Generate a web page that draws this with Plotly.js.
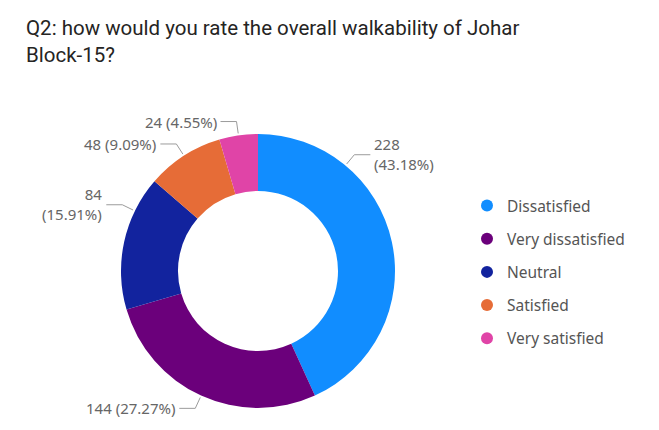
<!DOCTYPE html>
<html>
<head>
<meta charset="utf-8">
<script src="https://cdn.plot.ly/plotly-3.0.1.min.js"></script>
<style>html,body{margin:0;padding:0;background:#fff;}#chart{width:659px;height:430px;}</style>
</head>
<body>
<div id="chart"></div>
<script>
// ---- data ----
const categories = ["Dissatisfied", "Very dissatisfied", "Neutral", "Satisfied", "Very satisfied"];
const counts = [228, 144, 84, 48, 24];
const colors = ["#118DFF", "#6B007B", "#12239E", "#E66C37", "#E044A7"];
const titleText = "Q2: how would you rate the overall walkability of Johar<br>Block-15?";

// ---- label layout (where along each slice the leader line attaches, line breaks) ----
const labelFrac = [0.255, 0.5, 0.74, 0.5, 0.5];
const labelBreak = [true, false, true, false, false];

const W = 659, H = 430;
const CX = 258, CY = 271, R = 137;

const total = counts.reduce((a, b) => a + b, 0);
const px2x = p => p / W;
const px2y = p => 1 - p / H;

const shapes = [];
const annotations = [];
let cum = 0;
counts.forEach((v, i) => {
  const start = cum / total * 360;
  const span = v / total * 360;
  cum += v;
  const ang = (start + span * labelFrac[i]) * Math.PI / 180;
  const dx = Math.sin(ang), dy = -Math.cos(ang);
  const ax = CX + (R + 2) * dx, ay = CY + (R + 2) * dy;
  const ex = ax + 12 * dx, ey = ay + 12 * dy;
  const right = dx >= 0;
  const hx = ex + (right ? 16 : -16);
  shapes.push({
    type: "path", xref: "paper", yref: "paper",
    path: `M ${px2x(ax)},${px2y(ay)} L ${px2x(ex)},${px2y(ey)} L ${px2x(hx)},${px2y(ey)}`,
    line: {color: "#9b9b9b", width: 1}
  });
  const pct = (v / total * 100).toFixed(2) + "%";
  const txt = v + (labelBreak[i] ? "<br>" : " ") + "(" + pct + ")";
  annotations.push({
    xref: "paper", yref: "paper",
    x: px2x(hx + (right ? 2 : -2)), y: px2y(ey - (labelBreak[i] ? 1 : 0)),
    xanchor: right ? "left" : "right", yanchor: "middle",
    align: right ? "left" : "right",
    text: txt, showarrow: false,
    font: {family: "Noto Sans, sans-serif", size: 15, color: "#666666"}
  });
});

const pie = {
  type: "pie",
  labels: categories,
  values: counts,
  marker: {colors: colors, line: {width: 0}},
  hole: 0.584,
  sort: false,
  direction: "clockwise",
  rotation: 0,
  textinfo: "none",
  hoverinfo: "label+value+percent",
  showlegend: false,
  domain: {x: [px2x(CX - R), px2x(CX + R)], y: [px2y(CY + R), px2y(CY - R)]}
};

const legendTraces = categories.map((c, i) => ({
  type: "scatter", mode: "markers",
  x: [null], y: [null],
  name: c, legendgroup: "g" + i,
  marker: {color: colors[i], size: 12, symbol: "circle"},
  hoverinfo: "skip", showlegend: true
}));

const layout = {
  width: W, height: H,
  margin: {l: 0, r: 0, t: 0, b: 0},
  paper_bgcolor: "#ffffff", plot_bgcolor: "#ffffff",
  title: {
    text: titleText, xref: "container", yref: "container",
    x: 26 / W, xanchor: "left", y: 1 - 35 / H, yanchor: "middle",
    font: {family: "Roboto, sans-serif", size: 20.5, color: "#252423"}
  },
  xaxis: {visible: false}, yaxis: {visible: false},
  showlegend: true,
  legend: {
    x: px2x(467), xanchor: "left", y: px2y(189), yanchor: "top",
    font: {family: "Noto Sans, sans-serif", size: 15.5, color: "#555555"},
    tracegroupgap: 10, itemclick: false, itemdoubleclick: false,
    bgcolor: "rgba(0,0,0,0)"
  },
  shapes: shapes,
  annotations: annotations
};

Plotly.newPlot("chart", [pie].concat(legendTraces), layout, {displayModeBar: false, staticPlot: true});
</script>
</body>
</html>
